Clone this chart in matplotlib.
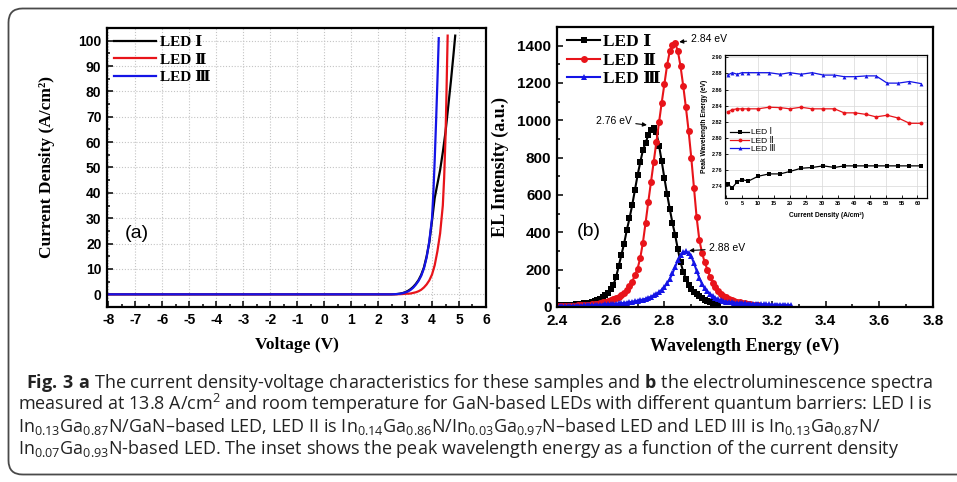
import matplotlib
matplotlib.use("Agg")
import matplotlib.pyplot as plt
import numpy as np
from matplotlib.patches import FancyBboxPatch
from matplotlib.ticker import MultipleLocator, FormatStrFormatter

plt.rcParams['font.family'] = ['Liberation Sans', 'DejaVu Sans']
plt.rcParams['font.weight'] = 'bold'
plt.rcParams['axes.labelweight'] = 'bold'
plt.rcParams['axes.unicode_minus'] = False
plt.rcParams['mathtext.fontset'] = 'custom'
plt.rcParams['mathtext.rm'] = 'Open Sans:normal'
plt.rcParams['mathtext.it'] = 'Open Sans:normal'
plt.rcParams['mathtext.bf'] = 'Open Sans:bold'
plt.rcParams['mathtext.default'] = 'rm'

SERIF = ['Liberation Serif', 'DejaVu Serif', 'DejaVu Sans']
CAPTION_FONT = 'Open Sans'

labels = ['LED Ⅰ', 'LED Ⅱ', 'LED Ⅲ']
colors = ['black', '#e8141a', '#1414e6']

# (a) current density vs voltage
jv_volt_1 = [-8.0, 2.5, 2.6, 2.7, 2.8, 2.9, 3.0, 3.1, 3.2, 3.3, 3.4, 3.5, 3.6, 3.7,
             3.8, 3.9, 4.0, 4.1, 4.2, 4.3, 4.4, 4.5, 4.6, 4.7, 4.8, 4.86]
jv_curr_1 = [0.0, 0.0, 0.05, 0.1, 0.25, 0.45, 0.8, 1.3, 2.0, 2.9, 4.1, 5.6, 7.7, 10.6,
             15.0, 20.5, 29.0, 38.0, 43.5, 49.0, 56.0, 64.0, 74.0, 84.0, 95.0, 102.0]
jv_volt_2 = [-8.0, 2.6, 2.8, 2.9, 3.0, 3.2, 3.4, 3.5, 3.6, 3.7, 3.8, 3.9, 4.0, 4.1,
             4.2, 4.3, 4.4, 4.45, 4.5, 4.53, 4.56, 4.58]
jv_curr_2 = [0.0, 0.0, 0.05, 0.1, 0.2, 0.3, 0.8, 1.2, 1.8, 2.7, 3.9, 5.5, 7.8, 11.5,
             17.0, 24.0, 35.0, 46.0, 62.0, 76.0, 92.0, 102.0]
jv_volt_3 = [-8.0, 2.5, 2.6, 2.7, 2.8, 2.9, 3.0, 3.1, 3.2, 3.3, 3.4, 3.5, 3.6, 3.7,
             3.8, 3.9, 4.0, 4.05, 4.1, 4.15, 4.2, 4.25]
jv_curr_3 = [0.0, 0.0, 0.05, 0.1, 0.2, 0.4, 0.7, 1.1, 1.7, 2.6, 3.8, 5.3, 7.3, 10.2,
             14.5, 21.0, 30.0, 40.0, 53.0, 68.0, 84.0, 101.0]

# (b) EL spectra, sampled every 0.01 eV starting at 2.40 eV
energy = np.round(np.arange(240, 328) / 100, 2)
el_1 = [8, 8, 9, 10, 10, 11, 12, 14, 15, 17,
        19, 21, 24, 28, 32, 37, 44, 52, 62, 76,
        95, 118, 160, 220, 280, 340, 412, 475, 545, 625,
        705, 775, 840, 880, 920, 948, 960, 935, 865, 780,
        690, 605, 525, 450, 385, 310, 240, 190, 152, 120,
        97, 82, 70, 58, 48, 40, 33, 26, 21, 16, 12]
el_2 = [3, 3, 4, 4, 5, 5, 6, 7, 8, 9,
        10, 11, 12, 14, 16, 18, 21, 25, 29, 33,
        38, 43, 50, 56, 64, 76, 92, 110, 135, 170,
        205, 262, 345, 452, 563, 669, 776, 882, 989, 1095,
        1195, 1295, 1370, 1405, 1412, 1372, 1290, 1185, 1070, 945,
        800, 640, 480, 360, 290, 240, 200, 162, 130, 105,
        86, 72, 60, 51, 44, 38, 33, 29, 25, 22,
        20, 17, 15, 12, 10, 8]
el_3 = [3, 3, 4, 4, 5, 5, 6, 6, 7, 7,
        8, 8, 9, 10, 10, 11, 12, 13, 14, 15,
        16, 17, 18, 19, 20, 22, 24, 26, 28, 31,
        34, 37, 40, 44, 49, 55, 62, 70, 80, 92,
        107, 127, 150, 180, 215, 250, 278, 293, 298, 290,
        272, 235, 195, 155, 124, 100, 84, 70, 58, 48,
        41, 36, 32, 29, 27, 25, 23, 22, 21, 20,
        19, 18, 17, 17, 16, 16, 15, 15, 14, 14,
        13, 13, 13, 12, 12, 12, 11, 11]
peak_labels = ['2.76 eV', '2.84 eV', '2.88 eV']

# inset: peak energy vs current density
inset_current = [0.5, 2, 3.5, 5, 7, 10, 13.5, 17, 20, 23.5, 27, 30.5, 34, 37,
                 40.5, 44, 47, 50.5, 54, 57.5, 61]
peak_1 = [2.742, 2.738, 2.745, 2.748, 2.746, 2.752, 2.755, 2.755, 2.758, 2.762, 2.763,
          2.765, 2.763, 2.765, 2.765, 2.765, 2.765, 2.765, 2.765, 2.765, 2.765]
peak_2 = [2.832, 2.835, 2.836, 2.836, 2.836, 2.836, 2.838, 2.8375, 2.836, 2.838, 2.836,
          2.836, 2.836, 2.831, 2.831, 2.829, 2.826, 2.828, 2.8245, 2.818, 2.818]
peak_3 = [2.878, 2.881, 2.879, 2.881, 2.881, 2.881, 2.881, 2.879, 2.881, 2.879, 2.881,
          2.878, 2.878, 2.876, 2.876, 2.877, 2.877, 2.868, 2.868, 2.870, 2.8675]

caption_lines = [
    r"$\mathbf{Fig.\,3\ a}$ The current density-voltage characteristics "
    r"for these samples and $\mathbf{b}$ the electroluminescence spectra",
    r"measured at 13.8 A/cm$^2$ and room temperature for GaN-based LEDs with different "
    r"quantum barriers: LED I is",
    r"In$_{0.13}$Ga$_{0.87}$N/GaN–based LED, LED II is In$_{0.14}$Ga$_{0.86}$N/"
    r"In$_{0.03}$Ga$_{0.97}$N–based LED and LED III is In$_{0.13}$Ga$_{0.87}$N/",
    r"In$_{0.07}$Ga$_{0.93}$N-based LED. The inset shows the peak wavelength energy as a "
    r"function of the current density",
]


def style_axes(ax, size, spine_w=1.6):
    for s in ax.spines.values():
        s.set_linewidth(spine_w)
    ax.tick_params(which='both', direction='in', top=False, right=False,
                   labelsize=size, width=1.1, pad=4)
    ax.tick_params(which='major', length=4)
    ax.tick_params(which='minor', length=2.2)


fig = plt.figure(figsize=(9.57, 4.82), dpi=100)

# ---- panel (a)
ax = fig.add_axes([0.1118, 0.3631, 0.3960, 0.5788])
jv = [(jv_volt_1, jv_curr_1), (jv_volt_2, jv_curr_2), (jv_volt_3, jv_curr_3)]
for (v, j), c, lab in zip(jv, colors, labels):
    ax.plot(v, j, color=c, lw=1.6, label=lab)
ax.set_xlim(-8.05, 6)
ax.set_ylim(-5, 105)
ax.xaxis.set_major_locator(MultipleLocator(1))
ax.xaxis.set_minor_locator(MultipleLocator(0.5))
ax.yaxis.set_major_locator(MultipleLocator(10))
ax.yaxis.set_minor_locator(MultipleLocator(5))
ax.grid(which='major', color='#c4c4c4', ls=(0, (1, 1.6)), lw=0.8)
ax.set_axisbelow(True)
style_axes(ax, 10)
ax.set_xlabel('Voltage (V)', family=SERIF, fontsize=12.5, fontweight='bold')
ax.set_ylabel('Current Density (A/cm²)', family=SERIF, fontsize=12.5, fontweight='bold')
ax.xaxis.set_label_coords(0.5, -0.108)
ax.yaxis.set_label_coords(-0.137, 0.5)
ax.text(0.047, 0.265, '(a)', transform=ax.transAxes, fontsize=14, va='center',
        fontweight='normal')
ax.legend(loc='upper left', bbox_to_anchor=(-0.01, 1.012), frameon=False,
          prop={'family': SERIF, 'weight': 'bold', 'size': 11},
          handlelength=2.75, handletextpad=0.25, labelspacing=0.26, borderaxespad=0.3)

# ---- panel (b)
ax = fig.add_axes([0.5820, 0.3631, 0.3929, 0.5809])
markers = ['s', 'o', '^']
msizes = [4.4, 5.0, 4.8]
spectra = [el_1, el_2, el_3]
for y, c, m, ms, lab in zip(spectra, colors, markers, msizes, labels):
    ax.plot(energy[:len(y)], y, color=c, lw=1.5, marker=m, ms=ms, mew=0, label=lab)
ax.set_xlim(2.4, 3.8)
ax.set_ylim(0, 1500)
ax.xaxis.set_major_locator(MultipleLocator(0.2))
ax.xaxis.set_minor_locator(MultipleLocator(0.1))
ax.xaxis.set_major_formatter(FormatStrFormatter('%.1f'))
ax.yaxis.set_major_locator(MultipleLocator(200))
ax.yaxis.set_minor_locator(MultipleLocator(100))
style_axes(ax, 11)
ax.tick_params(axis='x', pad=5)
ax.set_xlabel('Wavelength Energy (eV)', family=SERIF, fontsize=13, fontweight='bold')
ax.set_ylabel('EL Intensity (a.u.)', family=SERIF, fontsize=13, fontweight='bold')
ax.xaxis.set_label_coords(0.5, -0.108)
ax.yaxis.set_label_coords(-0.128, 0.5)
ax.text(0.053, 0.269, '(b)', transform=ax.transAxes, fontsize=14, va='center',
        fontweight='normal')
ax.legend(loc='upper left', bbox_to_anchor=(-0.005, 1.018), frameon=False, numpoints=1,
          prop={'family': SERIF, 'weight': 'bold', 'size': 12.5},
          handlelength=1.9, handletextpad=0.15, labelspacing=0.13, borderaxespad=0.3)

arrow = dict(arrowstyle='-|>', color='black', lw=0.8, mutation_scale=6,
             shrinkA=1, shrinkB=0)
ax.annotate(peak_labels[0], xy=(2.735, 975), xytext=(2.678, 996), ha='right',
            va='center', fontsize=7.5, fontweight='normal', arrowprops=arrow)
ax.annotate(peak_labels[1], xy=(2.855, 1420), xytext=(2.898, 1436), ha='left',
            va='center', fontsize=7.5, fontweight='normal', arrowprops=arrow)
ax.annotate(peak_labels[2], xy=(2.892, 302), xytext=(2.967, 314), ha='left',
            va='center', fontsize=7.5, fontweight='normal', arrowprops=arrow)

# ---- inset
ax = fig.add_axes([0.7576, 0.5892, 0.2111, 0.2967])
peaks = [peak_1, peak_2, peak_3]
for y, c, m, lab in zip(peaks, colors, markers, labels):
    ax.plot(inset_current, y, color=c, lw=0.9, marker=m, ms=2.8, mew=0, label=lab)
ax.set_xlim(-0.3, 63)
ax.set_ylim(2.725, 2.903)
ax.xaxis.set_major_locator(MultipleLocator(10))
ax.xaxis.set_minor_locator(MultipleLocator(5))
ax.xaxis.set_minor_formatter(FormatStrFormatter('%d'))
ax.yaxis.set_major_locator(MultipleLocator(0.02))
ax.yaxis.set_major_formatter(FormatStrFormatter('%.2f'))
ax.grid(which='major', color='#d8d8d8', lw=0.5)
ax.set_axisbelow(True)
for s in ax.spines.values():
    s.set_linewidth(0.9)
ax.tick_params(which='both', direction='in', labelsize=4, length=2, width=0.6, pad=2)
ax.set_xlabel('Current Density (A/cm²)', fontsize=4.8)
ax.set_ylabel('Peak Wavelength Energy (eV)', fontsize=4.8)
ax.xaxis.set_label_coords(0.5, -0.095)
ax.yaxis.set_label_coords(-0.085, 0.5)
ax.legend(loc='upper left', bbox_to_anchor=(0.0, 0.52), frameon=False, numpoints=1,
          prop={'size': 6, 'weight': 'normal'}, handlelength=2.3, handletextpad=0.2,
          labelspacing=0.05, borderaxespad=0.2)

# ---- caption and frame
frame = FancyBboxPatch((0.085, 0.075), 9.8, 4.66, transform=fig.dpi_scale_trans,
                       boxstyle='round,pad=0,rounding_size=0.14', fc='none',
                       ec='#4a4a4a', lw=1.3, clip_on=False)
fig.add_artist(frame)

cap_pos = [(26, 388), (18.5, 410), (18.5, 432), (18.5, 454)]
for s, (x, y) in zip(caption_lines, cap_pos):
    fig.text(x / 957, 1 - y / 482, s, family=CAPTION_FONT, fontsize=13.0,
             fontweight='normal', color='#222222', va='baseline', ha='left')

fig.savefig('out.png', dpi=100)
